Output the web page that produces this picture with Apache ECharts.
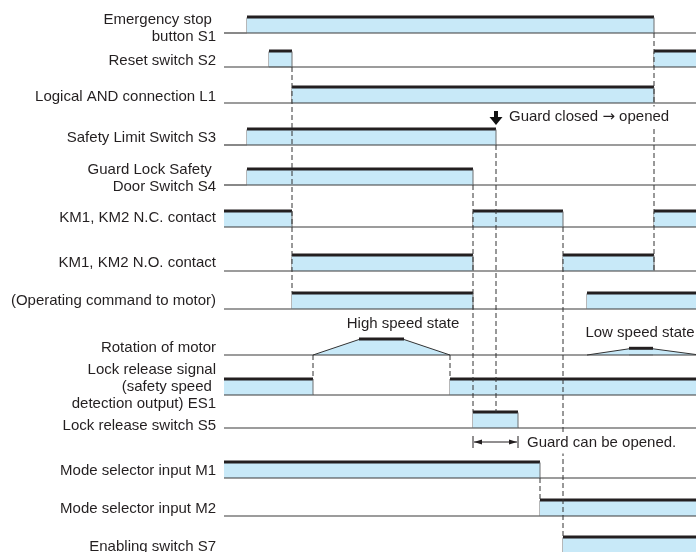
<!DOCTYPE html>
<html>
<head>
<meta charset="utf-8">
<script src="https://cdn.jsdelivr.net/npm/echarts@6/dist/echarts.min.js"></script>
<style>html,body{margin:0;padding:0;background:#fff;}#chart{width:696px;height:552px;}</style>
</head>
<body>
<div id="chart"></div>
<script>
// ---- DATA (time in arbitrary units, 0 .. 472; level 0 = low/off, 1 = high/on) ----
const T_END = 472;
const rowNames = [
  'Emergency stop \nbutton S1',
  'Reset switch S2',
  'Logical AND connection L1',
  'Safety Limit Switch S3',
  'Guard Lock Safety \nDoor Switch S4',
  'KM1, KM2 N.C. contact',
  'KM1, KM2 N.O. contact',
  '(Operating command to motor)',
  'Rotation of motor',
  'Lock release signal\n(safety speed \ndetection output) ES1',
  'Lock release switch S5',
  'Mode selector input M1',
  'Mode selector input M2',
  'Enabling switch S7'
];
// waveforms: [time, level]
const s1Stop     = [[0,0],[23,0],[23,1],[430,1],[430,0],[472,0]];
const s2Reset    = [[0,0],[45,0],[45,1],[68,1],[68,0],[430,0],[430,1],[472,1]];
const l1And      = [[0,0],[68,0],[68,1],[430,1],[430,0],[472,0]];
const s3Limit    = [[0,0],[23,0],[23,1],[272,1],[272,0],[472,0]];
const s4Door     = [[0,0],[23,0],[23,1],[249,1],[249,0],[472,0]];
const kmNC       = [[0,1],[68,1],[68,0],[249,0],[249,1],[339,1],[339,0],[430,0],[430,1],[472,1]];
const kmNO       = [[0,0],[68,0],[68,1],[249,1],[249,0],[339,0],[339,1],[430,1],[430,0],[472,0]];
const opCommand  = [[0,0],[68,0],[68,1],[249,1],[249,0],[363,0],[363,1],[472,1]];
const motorSpeed = [[0,0],[89,0],[135,1],[180,1],[226,0],[363,0],[405,0.4],[429,0.4],[472,0.03]];
const es1Release = [[0,1],[89,1],[89,0],[226,0],[226,1],[472,1]];
const s5Release  = [[0,0],[249,0],[249,1],[294,1],[294,0],[472,0]];
const m1Mode     = [[0,1],[316,1],[316,0],[472,0]];
const m2Mode     = [[0,0],[316,0],[316,1],[472,1]];
const s7Enable   = [[0,0],[339,0],[339,1],[472,1]];
const waves = [s1Stop, s2Reset, l1And, s3Limit, s4Door, kmNC, kmNO, opCommand,
               motorSpeed, es1Release, s5Release, m1Mode, m2Mode, s7Enable];
// sync (dashed) lines: [time, fromRow, fromLevel, toRow, toLevel]
const syncLines = [
  [68, 1, 0, 7, 1],
  [430, 0, 0, 6, 0],
  [249, 4, 0, 10, 1],
  [272, 3, 0, 10, 1],
  [339, 5, 0, 13, 1],
  [316, 11, 0, 12, 1],
  [89, 8, 0, 9, 1],
  [226, 8, 0, 9, 1]
];
// annotations
const noteTexts = ['{t|Guard closed }{a|\u2192}{t| opened}', 'High speed state', 'Low speed state', 'Guard can be opened.'];
const noteTimes = [272, 179, 416, 294];
const guardOpenSpan = [249, 294];
const guardClosedTime = 272;

// ---- LAYOUT ----
const rowBaseY = [33, 67, 103, 145, 185, 227, 271, 309, 355, 395, 428, 478, 516, 553];
const labelCenterY = [28, 61, 97, 138, 178, 218, 263, 301, 348, 387, 426, 471, 509, 547];
const levelPx = 15.5;
const noteY = [117, 324, 333, 443];
const noteDx = [11, 0, 0, 7];
const noteAlign = ['left', 'center', 'center', 'left'];
const FONT = '15px "Liberation Sans", Arial, Helvetica, sans-serif';
const TEXT = '#231f20';
const FILL = '#c8e9f8';
const TOP = '#231f20';
const EDGE = '#6d6e71';
const BASE = '#3a3a3a';

const chart = echarts.init(document.getElementById('chart'), null, {renderer: 'canvas'});
const series = [];

waves.forEach((pts, row) => {
  const segs = [];
  for (let i = 0; i < pts.length - 1; i++) segs.push([pts[i][0], pts[i][1], pts[i + 1][0], pts[i + 1][1]]);
  series.push({
    type: 'custom', name: rowNames[row], coordinateSystem: 'cartesian2d', z: 2, clip: false,
    data: segs,
    renderItem: (params, api) => {
      const t0 = api.value(0), l0 = api.value(1), t1 = api.value(2), l1 = api.value(3);
      const b = rowBaseY[row];
      const P = (t, l) => api.coord([t, b - l * levelPx]);
      const a = P(t0, 0), p0 = P(t0, l0), p1 = P(t1, l1), c = P(t1, 0);
      const ch = [];
      if (t1 > t0 && (l0 > 0 || l1 > 0)) {
        ch.push({type: 'polygon', shape: {points: [a, p0, p1, c]}, style: {fill: FILL}});
      }
      if (t1 > t0) {
        ch.push({type: 'line', shape: {x1: a[0], y1: a[1], x2: c[0], y2: c[1]}, style: {stroke: BASE, lineWidth: 1.2}});
      }
      if (t1 === t0) {
        ch.push({type: 'line', shape: {x1: p0[0], y1: p0[1], x2: p1[0], y2: p1[1]}, style: {stroke: EDGE, lineWidth: 1}});
      } else if (l0 === l1 && l0 > 0) {
        ch.push({type: 'line', shape: {x1: p0[0], y1: p0[1] - 0.5, x2: p1[0], y2: p1[1] - 0.5}, style: {stroke: TOP, lineWidth: 3}});
      } else if (l0 !== l1) {
        ch.push({type: 'line', shape: {x1: p0[0], y1: p0[1], x2: p1[0], y2: p1[1]}, style: {stroke: '#333', lineWidth: 1}});
      }
      return {type: 'group', children: ch};
    }
  });
});

series.push({
  type: 'custom', name: 'sync', coordinateSystem: 'cartesian2d', z: 3, clip: false,
  data: syncLines,
  renderItem: (params, api) => {
    const t = api.value(0);
    const p0 = api.coord([t, rowBaseY[api.value(1)] - api.value(2) * levelPx]);
    const p1 = api.coord([t, rowBaseY[api.value(3)] - api.value(4) * levelPx]);
    return {type: 'line', shape: {x1: p0[0], y1: p0[1], x2: p1[0], y2: p1[1]},
      style: {stroke: '#333', lineWidth: 1, lineDash: [5, 3]}};
  }
});

series.push({
  type: 'custom', name: 'labels', coordinateSystem: 'cartesian2d', z: 4, clip: false,
  data: rowNames.map((n, i) => [0, i]),
  renderItem: (params, api) => {
    const i = params.dataIndex;
    const p = api.coord([api.value(0), labelCenterY[i]]);
    return {type: 'text', x: p[0] - 8, y: p[1],
      style: {text: rowNames[i], font: FONT, fill: TEXT, align: 'right', verticalAlign: 'middle', lineHeight: 17}};
  }
});

series.push({
  type: 'custom', name: 'notes', coordinateSystem: 'cartesian2d', z: 5, clip: false,
  data: noteTimes.map((t, i) => [t, i]),
  renderItem: (params, api) => {
    const i = params.dataIndex;
    const p = api.coord([api.value(0), noteY[i]]);
    return {type: 'text', x: p[0] + noteDx[i], y: p[1],
      style: {text: noteTexts[i], font: FONT, fill: TEXT, align: noteAlign[i], verticalAlign: 'middle',
        backgroundColor: '#fff', padding: [3, 2],
        rich: {
          t: {font: FONT, fill: TEXT},
          a: {font: '15px "DejaVu Sans", sans-serif', fill: TEXT}
        }}};
  }
});

// down arrow "Guard closed -> opened"
series.push({
  type: 'custom', name: 'guardArrow', coordinateSystem: 'cartesian2d', z: 5, clip: false,
  data: [[guardClosedTime, 0]],
  renderItem: (params, api) => {
    const tip = api.coord([api.value(0), rowBaseY[3] - levelPx - 4.5]);
    const x = tip[0], y = tip[1];
    return {type: 'polygon', shape: {points: [
      [x - 2, y - 14], [x + 2, y - 14], [x + 2, y - 8], [x + 6.5, y - 8], [x, y], [x - 6.5, y - 8], [x - 2, y - 8]
    ]}, style: {fill: '#111'}};
  }
});

// dimension arrow "Guard can be opened."
series.push({
  type: 'custom', name: 'openSpan', coordinateSystem: 'cartesian2d', z: 5, clip: false,
  data: [[guardOpenSpan[0], guardOpenSpan[1]]],
  renderItem: (params, api) => {
    const a = api.coord([api.value(0), noteY[3] - 1]);
    const b = api.coord([api.value(1), noteY[3] - 1]);
    const y = a[1];
    const st = {stroke: '#231f20', lineWidth: 1};
    return {type: 'group', children: [
      {type: 'line', shape: {x1: a[0] + 1, y1: y, x2: b[0] - 1, y2: y}, style: st},
      {type: 'line', shape: {x1: a[0], y1: y - 6, x2: a[0], y2: y + 6}, style: st},
      {type: 'line', shape: {x1: b[0], y1: y - 6, x2: b[0], y2: y + 6}, style: st},
      {type: 'polygon', shape: {points: [[a[0] + 1, y], [a[0] + 9, y - 2.5], [a[0] + 9, y + 2.5]]}, style: {fill: '#231f20'}},
      {type: 'polygon', shape: {points: [[b[0] - 1, y], [b[0] - 9, y - 2.5], [b[0] - 9, y + 2.5]]}, style: {fill: '#231f20'}}
    ]};
  }
});

chart.setOption({
  animation: false,
  backgroundColor: '#fff',
  grid: {left: 224, right: 0, top: 0, bottom: 0, containLabel: false},
  xAxis: {type: 'value', min: 0, max: T_END, show: false},
  yAxis: {type: 'value', min: 0, max: 552, inverse: true, show: false},
  series: series
});
</script>
</body>
</html>
